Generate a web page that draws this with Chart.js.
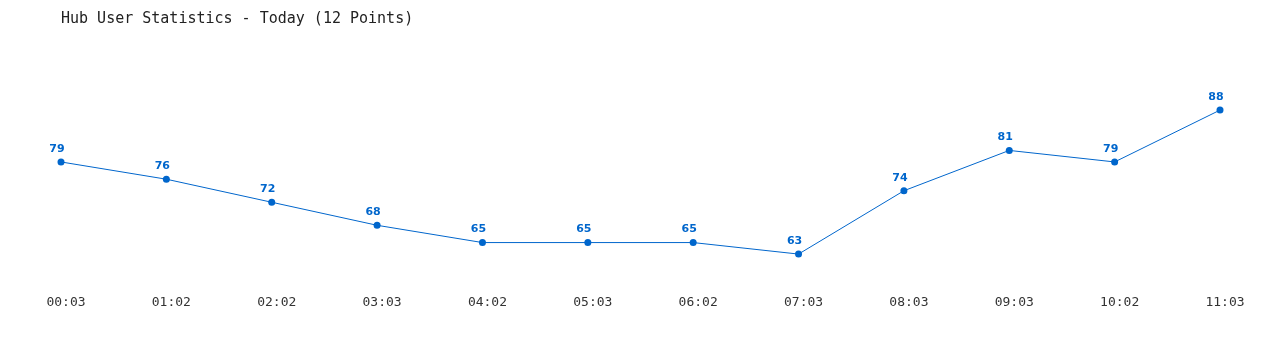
<!DOCTYPE html>
<html>
<head>
<meta charset="utf-8">
<title>Hub User Statistics</title>
<script src="https://cdn.jsdelivr.net/npm/chart.js@4/dist/chart.umd.min.js"></script>
<style>
  html, body { margin: 0; padding: 0; background: #fff; }
  #wrap { width: 1280px; height: 350px; }
</style>
</head>
<body>
<div id="wrap"><canvas id="hub-chart"></canvas></div>
<script>
"use strict";

// data
var timeLabels = ["00:03", "01:02", "02:02", "03:03", "04:02", "05:03", "06:02", "07:03", "08:03", "09:03", "10:02", "11:03"];
var userCounts = [79, 76, 72, 68, 65, 65, 65, 63, 74, 81, 79, 88];
var chartTitle = "Hub User Statistics - Today (12 Points)";

var blue = "#0066cc";

// draws the value above each point
var valueLabels = {
  id: "valueLabels",
  afterDatasetsDraw: function (chart) {
    var ctx = chart.ctx;
    var meta = chart.getDatasetMeta(0);
    var data = chart.data.datasets[0].data;
    ctx.save();
    ctx.font = "bold 11px 'DejaVu Sans', Verdana, sans-serif";
    ctx.fillStyle = blue;
    ctx.textAlign = "center";
    ctx.textBaseline = "middle";
    meta.data.forEach(function (pt, i) {
      ctx.fillText(String(data[i]), pt.x - 4, pt.y - 13);
    });
    ctx.restore();
  }
};

var ctx = document.getElementById("hub-chart");
new Chart(ctx, {
  type: "line",
  data: {
    labels: timeLabels,
    datasets: [{
      label: "Users",
      data: userCounts,
      borderColor: blue,
      backgroundColor: blue,
      borderWidth: 1,
      pointRadius: 3.5,
      pointBackgroundColor: blue,
      pointBorderWidth: 0,
      tension: 0,
      fill: false
    }]
  },
  options: {
    responsive: true,
    maintainAspectRatio: false,
    animation: false,
    events: [],
    layout: { padding: { left: 61, right: 60, top: 0, bottom: 40 } },
    plugins: {
      legend: { display: false },
      tooltip: { enabled: false },
      title: {
        display: true,
        text: chartTitle,
        align: "start",
        color: "#222",
        font: { family: "'DejaVu Sans Mono', monospace", size: 15, weight: "normal" },
        padding: { top: 10, bottom: 13 }
      }
    },
    scales: {
      x: {
        offset: false,
        grid: { display: false, drawTicks: false },
        border: { display: false },
        ticks: {
          color: "#333",
          padding: 0,
          labelOffset: 5,
          maxRotation: 0,
          autoSkip: false,
          font: { family: "'DejaVu Sans Mono', monospace", size: 13 }
        }
      },
      y: {
        display: false,
        min: 56,
        max: 100
      }
    }
  },
  plugins: [valueLabels]
});
</script>
</body>
</html>
